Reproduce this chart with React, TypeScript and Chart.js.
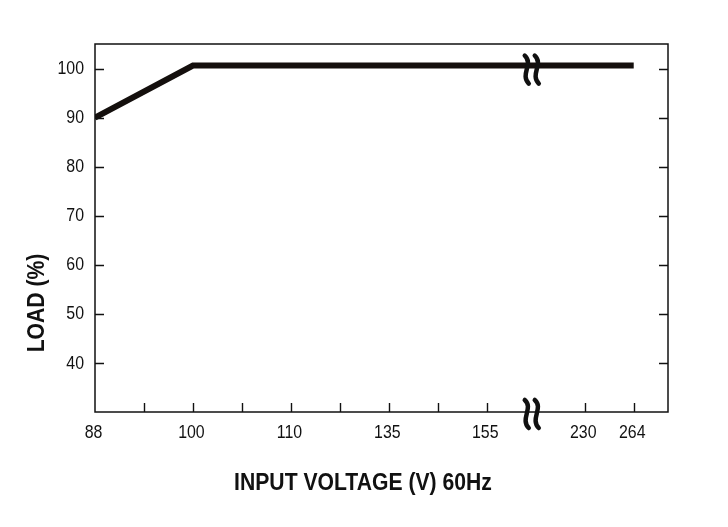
import { useEffect, useRef } from "react";
import { Chart, registerables, Plugin } from "chart.js";

Chart.register(...registerables);

// x positions are evenly spaced slots, the labels are the voltages printed under them
const slotPositions = [0, 1, 2, 3, 4, 5, 6, 7, 8, 9, 10, 11];
const voltageLabels = ["88", "", "100", "", "110", "", "135", "", "155", "", "230", "264"];
const breakSlot = 9;

// load curve
const curveSlots = [0, 2, 11];
const curveLoad = [90, 100.6, 100.6];

const loadTicks = [40, 50, 60, 70, 80, 90, 100];

const FONT = '"Liberation Sans", Arial, sans-serif';
// the datasheet font is a narrow grotesque, squeeze the glyphs a bit
const SQUEEZE_TICKS = 0.86;
const SQUEEZE_TITLE = 0.92;

const frameAndBreaks: Plugin<"line"> = {
  id: "frameAndBreaks",
  afterDraw: (chart) => {
    const { ctx, chartArea } = chart;
    const xs = chart.scales.x;
    const ys = chart.scales.y;
    const { left, right, top, bottom } = chartArea;
    ctx.save();

    // box
    ctx.strokeStyle = "#111";
    ctx.lineWidth = 1.5;
    ctx.strokeRect(left, top, right - left, bottom - top);

    // inward ticks
    ctx.lineWidth = 1.4;
    ctx.beginPath();
    loadTicks.forEach((v) => {
      const y = Math.round(ys.getPixelForValue(v)) + 0.5;
      ctx.moveTo(left, y);
      ctx.lineTo(left + 9, y);
      ctx.moveTo(right, y);
      ctx.lineTo(right - 9, y);
    });
    slotPositions.forEach((s) => {
      if (s === 0 || s === breakSlot) return;
      const x = Math.round(xs.getPixelForValue(s)) + 0.5;
      ctx.moveTo(x, bottom);
      ctx.lineTo(x, bottom - 9);
    });
    ctx.stroke();

    // tick labels
    ctx.fillStyle = "#111";
    ctx.font = `18.5px ${FONT}`;
    ctx.textBaseline = "middle";
    ctx.textAlign = "right";
    loadTicks.forEach((v) => {
      ctx.save();
      ctx.translate(left - 11, ys.getPixelForValue(v) + 0.5);
      ctx.scale(SQUEEZE_TICKS, 1);
      ctx.fillText(String(v), 0, 0);
      ctx.restore();
    });
    ctx.textAlign = "center";
    slotPositions.forEach((s) => {
      const label = voltageLabels[s];
      if (!label) return;
      ctx.save();
      ctx.translate(xs.getPixelForValue(s) - 1.5, bottom + 21);
      ctx.scale(SQUEEZE_TICKS, 1);
      ctx.fillText(label, 0, 0);
      ctx.restore();
    });

    // axis break marks
    const bx = xs.getPixelForValue(breakSlot);
    const drawBreak = (cy: number) => {
      ctx.strokeStyle = "#111";
      ctx.lineWidth = 4.5;
      ctx.lineCap = "round";
      [-5, 5].forEach((dx) => {
        const x0 = bx - 4 + dx;
        ctx.beginPath();
        ctx.moveTo(x0 - 2, cy - 14);
        ctx.bezierCurveTo(x0 + 7, cy - 6, x0 - 7, cy + 5, x0 + 2, cy + 14);
        ctx.stroke();
      });
    };
    drawBreak(ys.getPixelForValue(curveLoad[2]) + 4);
    drawBreak(bottom + 2);

    // axis titles
    ctx.fillStyle = "#111";
    ctx.textAlign = "center";
    ctx.textBaseline = "middle";
    ctx.font = `bold 23px ${FONT}`;
    ctx.save();
    ctx.translate(363, 484);
    ctx.scale(SQUEEZE_TITLE, 1);
    ctx.fillText("INPUT VOLTAGE (V) 60Hz", 0, 0);
    ctx.restore();
    ctx.translate(38, 303);
    ctx.rotate(-Math.PI / 2);
    ctx.scale(SQUEEZE_TITLE, 1);
    ctx.fillText("LOAD (%)", 0, 0);
    ctx.restore();
  },
};

function LoadChart() {
  const canvasRef = useRef<HTMLCanvasElement | null>(null);
  const chartRef = useRef<Chart<"line"> | null>(null);

  useEffect(() => {
    if (!canvasRef.current) return;
    chartRef.current?.destroy();

    chartRef.current = new Chart(canvasRef.current, {
      type: "line",
      data: {
        datasets: [
          {
            data: curveSlots.map((s, i) => ({ x: s, y: curveLoad[i] })),
            borderColor: "#140f0d",
            borderWidth: 6,
            borderCapStyle: "butt",
            borderJoinStyle: "miter",
            pointRadius: 0,
            tension: 0,
          },
        ],
      },
      options: {
        animation: false,
        responsive: false,
        events: [],
        layout: { padding: { top: 44, right: 60, left: 0, bottom: 0 } },
        plugins: { legend: { display: false }, tooltip: { enabled: false } },
        scales: {
          x: {
            type: "linear",
            min: 0,
            max: 11.7,
            afterBuildTicks: (scale) => {
              scale.ticks = slotPositions.map((v) => ({ value: v }));
            },
            afterFit: (scale) => {
              scale.height = 115;
            },
            grid: { display: false, drawTicks: false },
            border: { display: false },
            ticks: { display: false },
          },
          y: {
            min: 30,
            max: 105,
            afterBuildTicks: (scale) => {
              scale.ticks = loadTicks.map((v) => ({ value: v }));
            },
            afterFit: (scale) => {
              scale.width = 95;
            },
            grid: { display: false, drawTicks: false },
            border: { display: false },
            ticks: { display: false },
          },
        },
      },
      plugins: [frameAndBreaks],
    });

    return () => {
      chartRef.current?.destroy();
      chartRef.current = null;
    };
  }, []);

  return <canvas ref={canvasRef} width={728} height={527} />;
}

export default function App() {
  return (
    <div
      style={{
        position: "fixed",
        left: 0,
        top: 0,
        width: 728,
        height: 527,
        background: "#fff",
      }}
    >
      <LoadChart />
    </div>
  );
}
